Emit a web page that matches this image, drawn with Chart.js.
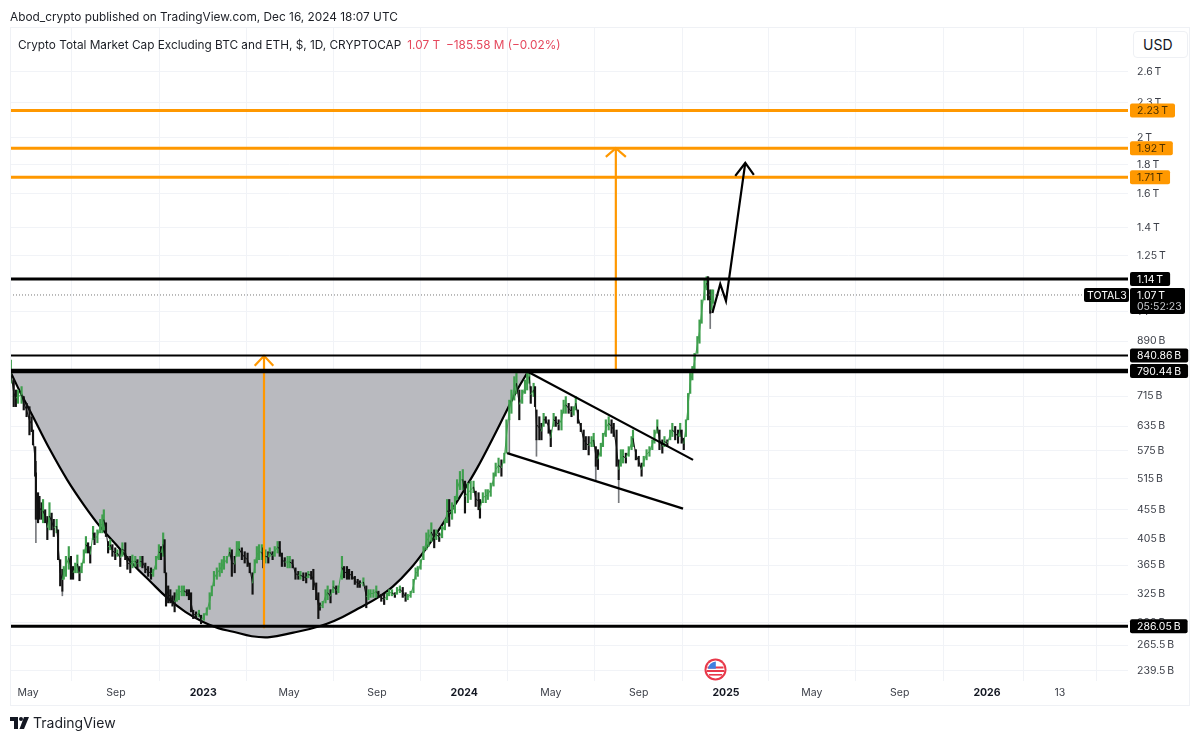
<!DOCTYPE html>
<html>
<head>
<meta charset="utf-8">
<title>TOTAL3</title>
<script src="https://cdn.jsdelivr.net/npm/chart.js@4"></script>
<style>
  html, body { margin: 0; padding: 0; background: #fff; font-family: Inter, "Noto Sans", sans-serif; color: #131722; }
  #wrap { position: relative; width: 1200px; height: 741px; overflow: hidden; }
  canvas { position: absolute; left: 0; top: 0; }
  .abs { position: absolute; white-space: nowrap; }
  #pub { left: 10px; top: 10px; font-size: 11.85px; color: #1c1f26; }
  #title { left: 18px; top: 38px; font-size: 11.8px; color: #1c1f26; }
  #title span { color: #e5485d; margin-left: 6px; }
  #usd { left: 1133px; top: 31px; width: 44px; height: 25px; padding-left: 9px; border: 1px solid #eef0f4; border-radius: 4px; font-size: 14px; line-height: 25px; background: #fff; }
  #brand { left: 33px; top: 714px; font-size: 14px; color: #1c1f26; }
  #logo { left: 10px; top: 717px; }
  #flag { left: 704px; top: 658px; }
  #frame { left: 10px; top: 27px; width: 1180px; height: 679px; border: 1px solid #eff1f5; box-sizing: border-box; pointer-events: none; }
</style>
</head>
<body>
<div id="wrap">
  <canvas id="myChart" width="1200" height="741"></canvas>
  <div id="frame" class="abs"></div>
  <div id="pub" class="abs">Abod_crypto published on TradingView.com, Dec 16, 2024 18:07 UTC</div>
  <div id="title" class="abs">Crypto Total Market Cap Excluding BTC and ETH, $, 1D, CRYPTOCAP<span>1.07 T</span><span>−185.58 M (−0.02%)</span></div>
  <div id="usd" class="abs">USD</div>
  <svg id="flag" class="abs" width="23" height="23" viewBox="0 0 23 23">
    <circle cx="11.5" cy="11.5" r="11" fill="#e8394a"/>
    <circle cx="11.5" cy="11.5" r="9" fill="#fff"/>
    <rect x="3.5" y="8.5" width="16" height="2" fill="#e8394a"/>
    <rect x="3" y="12" width="17" height="2" fill="#e8394a"/>
    <rect x="5" y="16" width="13" height="1.6" fill="#e8394a"/>
    <path d="M4 10.8 A8.2 8.2 0 0 1 11.8 3.4 V10.8 Z" fill="#3f7fe0"/>
  </svg>
  <svg id="logo" class="abs" width="19" height="12" viewBox="0 0 19 12">
    <path d="M0 0H8V12H4V4H0Z M14 0H19L14 12H9.5Z" fill="#131722"/>
    <circle cx="11" cy="2" r="2" fill="#131722"/>
  </svg>
  <div id="brand" class="abs">TradingView</div>
</div>
<script>
// all prices in billions of USD, x in days counted from 1 May 2022
const priceDays = [
  -24,-20,-17,-14,-9,-6,-2,2,5,7,10,11,14,16,19,21,24,27,30,33,36,40,42,45,48,50,53,57,60,63,
  66,69,72,75,78,81,84,87,91,93,97,101,104,106,109,112,115,118,122,125,129,132,136,139,143,146,150,153,157,160,
  164,168,172,175,179,183,186,189,191,193,196,199,202,205,208,211,215,218,222,225,228,231,235,239,242,246,250,254,257,260,
  264,268,271,274,278,282,285,289,292,295,299,303,307,310,314,317,320,323,327,329,332,336,
  338,342,345,349,352,355,359,363,366,370,374,378,381,385,389,392,396,399,403,406,408,412,416,419,423,427,431,434,439,442,
  446,449,453,457,461,464,469,473,476,479,483,487,490,494,498,502,505,509,513,516,520,524,528,531,535,539,542,545,549,553,
  557,560,564,568,571,575,579,583,586,589,593,597,600,604,608,611,615,619,623,626,630,632,636,640,643,647,651,654,658,662,
  666,669,673,676,680,683,687,691,695,698,
  701,703,707,709,711,715,718,721,724,728,731,735,738,742,746,749,752,756,760,763,766,769,773,777,780,784,788,791,794,797,
  801,804,808,812,816,819,823,826,829,832,836,840,844,846,850,854,858,861,865,869,873,876,880,883,887,890,894,898,901,905,
  909,912,914,917,920,923,926,929,932,936,939,942,946,949,951,954,956,958
];
const priceHigh = [
  826,763,733,733,743,714,695,686,659,625,585,527,487,480,468,474,455,443,468,449,438,438,420,373,359,363,378,393,378,363,
  368,380,363,368,388,409,399,393,426,415,420,438,446,455,432,401,404,396,391,388,388,399,399,378,378,380,378,373,378,378,
  368,363,361,359,378,396,393,415,404,354,336,331,323,327,331,336,336,336,331,331,327,305,303,305,299,301,308,327,336,356,
  361,368,373,378,378,391,388,378,401,401,391,385,383,368,354,373,393,396,396,391,388,385,
  391,385,393,401,401,383,376,378,378,373,361,356,356,354,354,356,356,359,340,327,314,316,331,336,331,343,336,336,378,363,
  363,359,356,349,345,343,347,336,331,331,331,336,329,325,325,327,331,331,327,334,336,334,327,325,329,345,361,363,373,393,
  415,420,432,420,420,415,426,438,474,474,468,480,513,530,534,510,506,510,510,490,487,474,487,493,493,506,527,548,559,555,
  570,651,704,733,773,783,733,733,763,783,
  794,743,753,743,677,659,642,668,659,651,625,668,659,651,677,704,714,695,686,686,714,677,642,625,609,609,609,617,585,578,
  593,617,651,659,651,642,625,555,578,578,570,585,609,625,578,563,548,563,578,585,601,625,651,625,601,609,601,625,642,634,
  625,642,625,605,651,723,783,805,848,907,969,1049,1136,1151,1151,1092,1092,1092
];
const priceLow = [
  753,686,686,695,695,677,659,613,621,589,520,438,432,438,438,432,432,404,420,420,409,415,373,336,329,345,349,359,345,345,
  354,354,343,354,368,383,383,368,404,396,399,415,415,420,409,383,388,378,373,378,363,378,373,359,354,361,363,361,363,361,
  354,349,345,349,359,373,373,378,354,310,314,314,310,303,316,318,323,323,323,318,303,295,295,297,289,293,299,306,323,336,
  345,349,354,359,368,378,349,354,378,378,373,368,363,354,325,354,368,373,373,361,368,368,
  378,373,378,383,378,363,363,361,361,361,345,345,345,343,340,347,345,331,318,295,305,308,314,318,314,327,325,327,345,347,
  345,345,345,338,334,334,336,308,318,321,321,321,321,316,312,318,323,323,321,325,327,321,316,318,321,327,345,349,359,373,
  388,393,401,391,404,401,407,420,432,426,438,449,474,493,493,449,468,474,487,461,455,440,468,468,474,480,500,520,527,520,
  548,570,651,668,704,723,651,695,723,733,
  753,695,714,686,601,601,601,634,642,617,585,634,634,625,625,668,668,668,659,663,677,642,621,578,578,566,585,585,541,534,
  563,585,609,625,617,609,541,513,541,548,548,563,578,585,555,541,520,541,555,563,578,593,617,578,570,585,585,601,609,601,
  593,609,593,578,609,651,723,763,794,848,883,956,1049,1092,1049,995,1008,1035
];

// long thin wicks
const wickDays = [-25,11,48,673,711,794,826,954];
const wickHigh = [840,438,329,651,601,541,513,995];
const wickLow = [790,399,323,570,563,513,468,936];

// horizontal levels
const levelOrange = [2230,1920,1710];
const levelBlack = [1140,790.44,286.05];
const levelThin = [840.86];
const lastPrice = 1070;

// the cup curve
const cupDays = [-25,-11,7,31,55,78,101,124,147,171,194,220,245,266,287,313,338,371,394,418,440,464,488,510,534,558,580,604,628,650,667,684,699];
const cupPrice = [790,727,659,577,512,464,425,395,366,342,321,303,291,284,280,275,274,279,283,289,297,308,320,335,359,392,430,479,537,605,666,733,788];

// wedge lines
const wedgeTopDays = [699,930];
const wedgeTopPrice = [788,555];
const wedgeLowDays = [670,916];
const wedgeLowPrice = [570,457];

// orange measure arrows
const arrowLeftDays = [330,330];
const arrowLeftPrice = [284,840];
const headLeftDays = [317,330,343];
const headLeftPrice = [807,840,807];
const arrowRightDays = [822,822];
const arrowRightPrice = [790,1920];
const headRightDays = [808,822,836];
const headRightPrice = [1854,1920,1854];

// black projected path
const pathDays = [957,968,976,1003];
const pathPrice = [996,1118,1045,1810];
const pathHeadDays = [989,1003,1015];
const pathHeadPrice = [1719,1810,1726];

// axes
const yTickValues = [2600,2300,2000,1800,1600,1400,1250,1000,890,715,635,575,515,455,405,365,325,290,265.5,239.5];
const yTickLabels = ["2.6\u202fT","2.3\u202fT","2\u202fT","1.8\u202fT","1.6\u202fT","1.4\u202fT","1.25\u202fT","1\u202fT","890\u202fB","715\u202fB","635\u202fB","575\u202fB","515\u202fB","455\u202fB","405\u202fB","365\u202fB","325\u202fB","290\u202fB","265.5\u202fB","239.5\u202fB"];
const xTickDays = [0,123,245,365,488,610,731,854,976,1096,1219,1341,1443];
const xTickLabels = ["May","Sep","2023","May","Sep","2024","May","Sep","2025","May","Sep","2026","13"];

// tags on the price axis
const tagValues = [2230,1920,1710,1140,840.86,790.44,286.05];
const tagLabels = ["2.23\u202fT","1.92\u202fT","1.71\u202fT","1.14\u202fT","840.86\u202fB","790.44\u202fB","286.05\u202fB"];
const tagColors = ["#ff9800","#ff9800","#ff9800","#000","#000","#000","#000"];
const tagText = ["#4a3000","#4a3000","#4a3000","#fff","#fff","#fff","#fff"];

const ORANGE = "#ff9800";
const GREEN = "#3f9f4e";
const xMin = -25.2, xMax = 1538.2;

function points(xs, ys) {
  return xs.map((x, i) => ({ x: x, y: ys[i] }));
}
function lineSet(xs, ys, color, width, order) {
  return { type: "line", data: points(xs, ys), borderColor: color, borderWidth: width, pointRadius: 0, fill: false, order: order };
}
function levelSet(level, color, width, order) {
  return lineSet([xMin, xMax], [level, level], color, width, order);
}
function isYear(ctx) {
  let label = xTickLabels[ctx.index];
  return label != undefined && label.length == 4;
}

// rising bars green, falling bars black
let barColors = [];
let priceMid = [];
priceDays.forEach((d, i) => {
  let mid = (priceHigh[i] + priceLow[i]) / 2;
  let prev = i > 0 ? priceMid[i - 1] : mid;
  priceMid.push(mid);
  barColors.push(mid >= prev ? GREEN : "#111");
});

let datasets = [];
datasets.push({
  type: "line", data: points(cupDays, cupPrice), borderColor: "#000", borderWidth: 2.2, pointRadius: 0,
  backgroundColor: "#b9babf", fill: { value: 790.44 }, tension: 0.4, order: 20
});
datasets.push({
  type: "bar", data: priceDays.map((d, i) => ({ x: d, y: [priceLow[i], priceHigh[i]] })),
  backgroundColor: barColors, barThickness: 1.5, grouped: false, order: 10
});
// joins the bars so the price reads as one jagged run
let priceRun = lineSet(priceDays, priceMid, GREEN, 1, 9);
priceRun.segment = { borderColor: ctx => ctx.p1.parsed.y >= ctx.p0.parsed.y ? GREEN : "#111" };
datasets.push(priceRun);
datasets.push({
  type: "bar", data: wickDays.map((d, i) => ({ x: d, y: [wickLow[i], wickHigh[i]] })),
  backgroundColor: "#77797d", barThickness: 1, grouped: false, order: 11
});
levelOrange.forEach(v => datasets.push(levelSet(v, ORANGE, 3, 4)));
levelBlack.forEach((v, i) => datasets.push(levelSet(v, "#000", i == 1 ? 4.5 : 3, 2)));
levelThin.forEach(v => datasets.push(levelSet(v, "#000", 2, 2)));
let dotted = lineSet([xMin, 1478], [lastPrice, lastPrice], "#777", 1, 5);
dotted.borderDash = [1, 2];
datasets.push(dotted);
datasets.push(lineSet(wedgeTopDays, wedgeTopPrice, "#000", 2.2, 3));
datasets.push(lineSet(wedgeLowDays, wedgeLowPrice, "#000", 2.2, 3));
datasets.push(lineSet(arrowLeftDays, arrowLeftPrice, ORANGE, 2.2, 3));
datasets.push(lineSet(headLeftDays, headLeftPrice, ORANGE, 2.2, 3));
datasets.push(lineSet(arrowRightDays, arrowRightPrice, ORANGE, 2.2, 3));
datasets.push(lineSet(headRightDays, headRightPrice, ORANGE, 2.2, 3));
datasets.push(lineSet(pathDays, pathPrice, "#000", 2.2, 1));
datasets.push(lineSet(pathHeadDays, pathHeadPrice, "#000", 2.2, 1));

// price tags drawn over the axis labels
const tagPlugin = {
  id: "priceTags",
  afterDraw(chart) {
    const c = chart.ctx, y = chart.scales.y;
    const left = chart.chartArea.right + 2;
    c.save();
    c.textBaseline = "middle";
    c.textAlign = "left";
    c.font = "10.5px Inter";
    tagValues.forEach((v, i) => {
      let py = y.getPixelForValue(v);
      let w = c.measureText(tagLabels[i]).width + 14;
      c.fillStyle = tagColors[i];
      c.beginPath();
      c.roundRect(left, py - 7, w, 14, 2);
      c.fill();
      c.fillStyle = tagText[i];
      c.fillText(tagLabels[i], left + 7, py + 0.5);
    });
    // last price box with countdown
    let py = y.getPixelForValue(lastPrice);
    c.fillStyle = "#000";
    c.beginPath();
    c.roundRect(left, py - 7, 55, 26, 2);
    c.fill();
    c.beginPath();
    c.roundRect(left - 46, py - 7, 45, 14, 2);
    c.fill();
    c.fillStyle = "#fff";
    c.fillText("TOTAL3", left - 43, py + 0.5);
    c.fillText("1.07\u202fT", left + 7, py + 0.5);
    c.fillStyle = "#c9cbd0";
    c.fillText("05:52:23", left + 7, py + 12);
    c.restore();
  }
};

const config = {
  data: { datasets: datasets },
  plugins: [tagPlugin],
  options: {
    responsive: false,
    animation: false,
    layout: { padding: { left: 10, right: 10, top: 27, bottom: 35 } },
    plugins: { legend: { display: false }, tooltip: { enabled: false }, title: { display: false } },
    scales: {
      x: {
        type: "linear", min: xMin, max: xMax, offset: false,
        afterBuildTicks: axis => { axis.ticks = xTickDays.map(d => ({ value: d })); },
        afterFit: axis => { axis.height = 25; },
        grid: { color: "#f1f3f7", drawTicks: false },
        border: { display: false },
        ticks: {
          autoSkip: false, maxRotation: 0, padding: 6,
          color: ctx => isYear(ctx) ? "#131722" : "#3d4049",
          font: ctx => ({ family: "Inter", size: 10.5, weight: isYear(ctx) ? "bold" : "normal" }),
          callback: (v, i) => xTickLabels[i]
        }
      },
      y: {
        type: "logarithmic", position: "right", min: 230.1, max: 3110,
        afterBuildTicks: axis => { axis.ticks = yTickValues.map(v => ({ value: v })); },
        afterFit: axis => { axis.width = 62; },
        grid: { color: "#f1f3f7", drawTicks: false },
        border: { display: false },
        ticks: {
          autoSkip: false, padding: 9, color: "#3d4049",
          font: { family: "Inter", size: 10.5 },
          callback: (v, i) => yTickLabels[i]
        }
      }
    }
  }
};
new Chart(document.getElementById("myChart"), config);
</script>
</body>
</html>
